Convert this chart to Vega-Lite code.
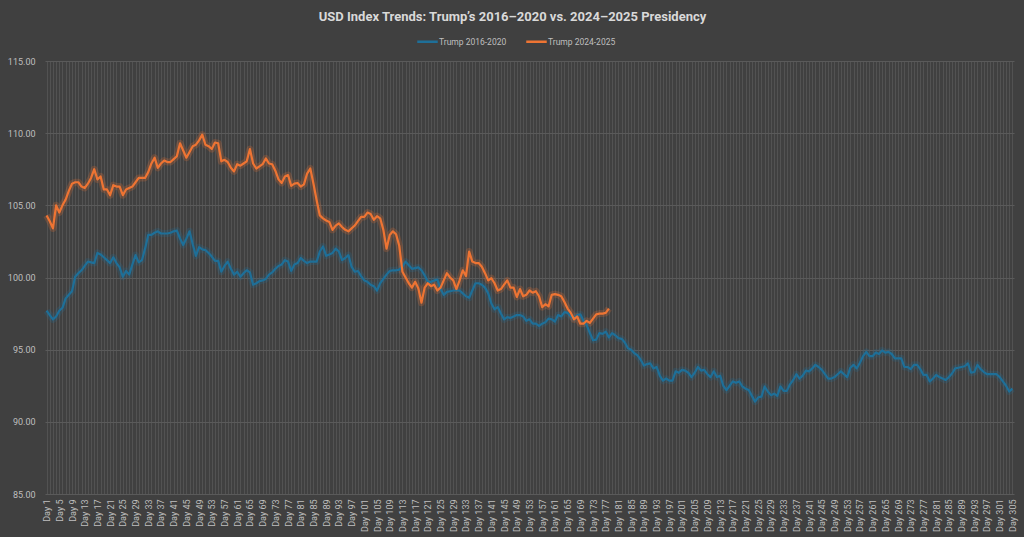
{
  "$schema": "https://vega.github.io/schema/vega-lite/v6.json",
  "width": 969,
  "height": 433,
  "autosize": {"type": "none"},
  "padding": {"left": 45, "top": 61, "right": 10, "bottom": 43},
  "background": "#404040",
  "config": {"font": "Roboto", "view": {"stroke": null}},
  "title": {
    "text": "USD Index Trends: Trump’s 2016–2020 vs. 2024–2025 Presidency",
    "fontSize": 13,
    "fontWeight": "bold",
    "color": "#d9d9d9",
    "anchor": "middle",
    "offset": 6,
    "dx": -17
  },
  "data": {
    "values": [
      {"day": 1, "a": 97.7, "b": 104.3},
      {"day": 2, "a": 97.4, "b": 103.9},
      {"day": 3, "a": 97.1, "b": 103.4},
      {"day": 4, "a": 97.3, "b": 105.0},
      {"day": 5, "a": 97.7, "b": 104.5},
      {"day": 6, "a": 97.9, "b": 105.0},
      {"day": 7, "a": 98.55, "b": 105.4},
      {"day": 8, "a": 98.8, "b": 106.0},
      {"day": 9, "a": 99.05, "b": 106.5},
      {"day": 10, "a": 100.05, "b": 106.6},
      {"day": 11, "a": 100.3, "b": 106.6},
      {"day": 12, "a": 100.5, "b": 106.3},
      {"day": 13, "a": 100.8, "b": 106.2},
      {"day": 14, "a": 101.1, "b": 106.5},
      {"day": 15, "a": 101.05, "b": 106.9},
      {"day": 16, "a": 101.0, "b": 107.5},
      {"day": 17, "a": 101.7, "b": 106.8},
      {"day": 18, "a": 101.6, "b": 107.0},
      {"day": 19, "a": 101.4, "b": 106.1},
      {"day": 20, "a": 101.2, "b": 106.1},
      {"day": 21, "a": 101.0, "b": 105.7},
      {"day": 22, "a": 101.4, "b": 106.4},
      {"day": 23, "a": 101.0, "b": 106.3},
      {"day": 24, "a": 100.7, "b": 106.3},
      {"day": 25, "a": 100.05, "b": 105.7},
      {"day": 26, "a": 100.45, "b": 106.1},
      {"day": 27, "a": 100.2, "b": 106.2},
      {"day": 28, "a": 100.9, "b": 106.3},
      {"day": 29, "a": 101.55, "b": 106.6},
      {"day": 30, "a": 101.05, "b": 106.9},
      {"day": 31, "a": 101.2, "b": 106.9},
      {"day": 32, "a": 102.0, "b": 106.9},
      {"day": 33, "a": 102.95, "b": 107.3},
      {"day": 34, "a": 102.95, "b": 107.9},
      {"day": 35, "a": 103.1, "b": 108.3},
      {"day": 36, "a": 103.2, "b": 107.6},
      {"day": 37, "a": 103.05, "b": 107.9},
      {"day": 38, "a": 103.05, "b": 108.1},
      {"day": 39, "a": 103.05, "b": 108.0},
      {"day": 40, "a": 103.1, "b": 108.0},
      {"day": 41, "a": 103.2, "b": 108.2},
      {"day": 42, "a": 103.25, "b": 108.4},
      {"day": 43, "a": 102.7, "b": 109.3},
      {"day": 44, "a": 102.25, "b": 108.8},
      {"day": 45, "a": 102.7, "b": 108.3},
      {"day": 46, "a": 103.2, "b": 108.7},
      {"day": 47, "a": 102.3, "b": 109.1},
      {"day": 48, "a": 101.5, "b": 109.2},
      {"day": 49, "a": 102.1, "b": 109.5},
      {"day": 50, "a": 101.95, "b": 109.9},
      {"day": 51, "a": 101.9, "b": 109.2},
      {"day": 52, "a": 101.7, "b": 109.1},
      {"day": 53, "a": 101.45, "b": 108.9},
      {"day": 54, "a": 101.15, "b": 109.35},
      {"day": 55, "a": 101.15, "b": 109.3},
      {"day": 56, "a": 100.4, "b": 108.05},
      {"day": 57, "a": 100.8, "b": 108.15},
      {"day": 58, "a": 101.1, "b": 108.0},
      {"day": 59, "a": 100.6, "b": 107.6},
      {"day": 60, "a": 100.2, "b": 107.35},
      {"day": 61, "a": 100.4, "b": 107.85},
      {"day": 62, "a": 100.05, "b": 107.75},
      {"day": 63, "a": 100.3, "b": 107.9},
      {"day": 64, "a": 100.5, "b": 108.05},
      {"day": 65, "a": 100.35, "b": 108.9},
      {"day": 66, "a": 99.5, "b": 107.9},
      {"day": 67, "a": 99.6, "b": 107.55},
      {"day": 68, "a": 99.75, "b": 107.7},
      {"day": 69, "a": 99.8, "b": 107.85},
      {"day": 70, "a": 99.9, "b": 108.25},
      {"day": 71, "a": 100.2, "b": 107.9},
      {"day": 72, "a": 100.35, "b": 107.85},
      {"day": 73, "a": 100.6, "b": 107.4},
      {"day": 74, "a": 100.8, "b": 106.8},
      {"day": 75, "a": 100.9, "b": 106.55},
      {"day": 76, "a": 101.2, "b": 107.0},
      {"day": 77, "a": 101.1, "b": 107.1},
      {"day": 78, "a": 100.45, "b": 106.35},
      {"day": 79, "a": 100.9, "b": 106.5},
      {"day": 80, "a": 101.0, "b": 106.55},
      {"day": 81, "a": 101.35, "b": 106.3},
      {"day": 82, "a": 101.15, "b": 106.45},
      {"day": 83, "a": 101.0, "b": 107.2},
      {"day": 84, "a": 101.1, "b": 107.55},
      {"day": 85, "a": 101.1, "b": 106.5},
      {"day": 86, "a": 101.1, "b": 105.35},
      {"day": 87, "a": 101.8, "b": 104.3},
      {"day": 88, "a": 102.15, "b": 104.1},
      {"day": 89, "a": 101.5, "b": 103.95},
      {"day": 90, "a": 101.6, "b": 103.85},
      {"day": 91, "a": 101.7, "b": 103.3},
      {"day": 92, "a": 102.0, "b": 103.6},
      {"day": 93, "a": 101.8, "b": 103.75},
      {"day": 94, "a": 101.2, "b": 103.5},
      {"day": 95, "a": 101.35, "b": 103.3},
      {"day": 96, "a": 101.55, "b": 103.2},
      {"day": 97, "a": 100.75, "b": 103.4},
      {"day": 98, "a": 100.4, "b": 103.6},
      {"day": 99, "a": 100.45, "b": 103.9},
      {"day": 100, "a": 100.1, "b": 104.2},
      {"day": 101, "a": 99.8, "b": 104.2},
      {"day": 102, "a": 99.7, "b": 104.5},
      {"day": 103, "a": 99.5, "b": 104.4},
      {"day": 104, "a": 99.4, "b": 104.0},
      {"day": 105, "a": 99.1, "b": 104.25},
      {"day": 106, "a": 99.6, "b": 104.1},
      {"day": 107, "a": 99.9, "b": 103.3},
      {"day": 108, "a": 100.2, "b": 102.0},
      {"day": 109, "a": 100.45, "b": 102.95},
      {"day": 110, "a": 100.5, "b": 103.2},
      {"day": 111, "a": 100.5, "b": 103.0},
      {"day": 112, "a": 100.55, "b": 102.2},
      {"day": 113, "a": 100.75, "b": 100.4},
      {"day": 114, "a": 101.1, "b": 100.0},
      {"day": 115, "a": 100.85, "b": 99.6},
      {"day": 116, "a": 100.6, "b": 99.3},
      {"day": 117, "a": 100.65, "b": 99.7},
      {"day": 118, "a": 100.7, "b": 99.25},
      {"day": 119, "a": 100.5, "b": 98.25},
      {"day": 120, "a": 100.15, "b": 99.3},
      {"day": 121, "a": 99.7, "b": 99.6},
      {"day": 122, "a": 99.7, "b": 99.4},
      {"day": 123, "a": 99.8, "b": 99.5},
      {"day": 124, "a": 99.85, "b": 99.1},
      {"day": 125, "a": 99.2, "b": 99.3},
      {"day": 126, "a": 98.8, "b": 99.8},
      {"day": 127, "a": 99.0, "b": 100.3},
      {"day": 128, "a": 99.05, "b": 100.0},
      {"day": 129, "a": 99.1, "b": 99.8},
      {"day": 130, "a": 99.1, "b": 99.2},
      {"day": 131, "a": 99.1, "b": 99.8},
      {"day": 132, "a": 98.9, "b": 100.5},
      {"day": 133, "a": 98.7, "b": 100.1},
      {"day": 134, "a": 98.6, "b": 101.8},
      {"day": 135, "a": 99.1, "b": 101.1},
      {"day": 136, "a": 99.6, "b": 101.0},
      {"day": 137, "a": 99.6, "b": 101.0},
      {"day": 138, "a": 99.5, "b": 100.75},
      {"day": 139, "a": 99.3, "b": 100.3},
      {"day": 140, "a": 98.9, "b": 99.8},
      {"day": 141, "a": 98.2, "b": 99.95},
      {"day": 142, "a": 97.8, "b": 99.6},
      {"day": 143, "a": 97.95, "b": 99.1},
      {"day": 144, "a": 97.5, "b": 99.2},
      {"day": 145, "a": 97.1, "b": 99.5},
      {"day": 146, "a": 97.25, "b": 99.8},
      {"day": 147, "a": 97.2, "b": 99.3},
      {"day": 148, "a": 97.3, "b": 99.3},
      {"day": 149, "a": 97.4, "b": 98.65},
      {"day": 150, "a": 97.4, "b": 99.2},
      {"day": 151, "a": 97.3, "b": 98.7},
      {"day": 152, "a": 97.0, "b": 98.8},
      {"day": 153, "a": 97.1, "b": 99.1},
      {"day": 154, "a": 96.8, "b": 98.95},
      {"day": 155, "a": 96.8, "b": 99.05},
      {"day": 156, "a": 96.65, "b": 98.7},
      {"day": 157, "a": 96.8, "b": 97.95},
      {"day": 158, "a": 96.9, "b": 98.15},
      {"day": 159, "a": 97.15, "b": 98.0},
      {"day": 160, "a": 97.1, "b": 98.8},
      {"day": 161, "a": 96.95, "b": 98.85},
      {"day": 162, "a": 97.4, "b": 98.8},
      {"day": 163, "a": 97.3, "b": 98.7},
      {"day": 164, "a": 97.6, "b": 98.3},
      {"day": 165, "a": 97.55, "b": 97.85},
      {"day": 166, "a": 97.3, "b": 97.55},
      {"day": 167, "a": 97.15, "b": 97.1},
      {"day": 168, "a": 97.4, "b": 97.3},
      {"day": 169, "a": 97.45, "b": 96.8},
      {"day": 170, "a": 97.0, "b": 96.8},
      {"day": 171, "a": 96.7, "b": 97.0},
      {"day": 172, "a": 96.15, "b": 96.85},
      {"day": 173, "a": 95.65, "b": 97.15},
      {"day": 174, "a": 95.7, "b": 97.45},
      {"day": 175, "a": 96.15, "b": 97.5},
      {"day": 176, "a": 96.1, "b": 97.5},
      {"day": 177, "a": 96.25, "b": 97.55},
      {"day": 178, "a": 95.85, "b": 97.85},
      {"day": 179, "a": 96.15},
      {"day": 180, "a": 96.0},
      {"day": 181, "a": 95.8},
      {"day": 182, "a": 95.75},
      {"day": 183, "a": 95.5},
      {"day": 184, "a": 95.1},
      {"day": 185, "a": 95.0},
      {"day": 186, "a": 94.75},
      {"day": 187, "a": 94.6},
      {"day": 188, "a": 94.3},
      {"day": 189, "a": 93.9},
      {"day": 190, "a": 94.0},
      {"day": 191, "a": 94.05},
      {"day": 192, "a": 93.7},
      {"day": 193, "a": 93.8},
      {"day": 194, "a": 93.2},
      {"day": 195, "a": 92.85},
      {"day": 196, "a": 93.0},
      {"day": 197, "a": 92.85},
      {"day": 198, "a": 92.85},
      {"day": 199, "a": 93.5},
      {"day": 200, "a": 93.4},
      {"day": 201, "a": 93.6},
      {"day": 202, "a": 93.55},
      {"day": 203, "a": 93.4},
      {"day": 204, "a": 93.1},
      {"day": 205, "a": 93.4},
      {"day": 206, "a": 93.8},
      {"day": 207, "a": 93.55},
      {"day": 208, "a": 93.6},
      {"day": 209, "a": 93.3},
      {"day": 210, "a": 93.1},
      {"day": 211, "a": 93.5},
      {"day": 212, "a": 93.1},
      {"day": 213, "a": 93.2},
      {"day": 214, "a": 92.5},
      {"day": 215, "a": 92.2},
      {"day": 216, "a": 92.5},
      {"day": 217, "a": 92.8},
      {"day": 218, "a": 92.7},
      {"day": 219, "a": 92.8},
      {"day": 220, "a": 92.45},
      {"day": 221, "a": 92.3},
      {"day": 222, "a": 92.2},
      {"day": 223, "a": 91.8},
      {"day": 224, "a": 91.4},
      {"day": 225, "a": 91.7},
      {"day": 226, "a": 91.75},
      {"day": 227, "a": 92.45},
      {"day": 228, "a": 92.1},
      {"day": 229, "a": 91.85},
      {"day": 230, "a": 91.95},
      {"day": 231, "a": 91.8},
      {"day": 232, "a": 92.45},
      {"day": 233, "a": 92.15},
      {"day": 234, "a": 92.15},
      {"day": 235, "a": 92.6},
      {"day": 236, "a": 92.9},
      {"day": 237, "a": 93.3},
      {"day": 238, "a": 93.0},
      {"day": 239, "a": 93.2},
      {"day": 240, "a": 93.55},
      {"day": 241, "a": 93.5},
      {"day": 242, "a": 93.7},
      {"day": 243, "a": 93.95},
      {"day": 244, "a": 93.8},
      {"day": 245, "a": 93.6},
      {"day": 246, "a": 93.3},
      {"day": 247, "a": 93.0},
      {"day": 248, "a": 93.0},
      {"day": 249, "a": 93.1},
      {"day": 250, "a": 93.3},
      {"day": 251, "a": 93.5},
      {"day": 252, "a": 93.3},
      {"day": 253, "a": 93.1},
      {"day": 254, "a": 93.75},
      {"day": 255, "a": 93.95},
      {"day": 256, "a": 93.7},
      {"day": 257, "a": 94.1},
      {"day": 258, "a": 94.55},
      {"day": 259, "a": 94.85},
      {"day": 260, "a": 94.55},
      {"day": 261, "a": 94.55},
      {"day": 262, "a": 94.8},
      {"day": 263, "a": 94.7},
      {"day": 264, "a": 94.95},
      {"day": 265, "a": 94.8},
      {"day": 266, "a": 94.85},
      {"day": 267, "a": 94.7},
      {"day": 268, "a": 94.4},
      {"day": 269, "a": 94.4},
      {"day": 270, "a": 94.4},
      {"day": 271, "a": 93.8},
      {"day": 272, "a": 93.8},
      {"day": 273, "a": 93.65},
      {"day": 274, "a": 93.95},
      {"day": 275, "a": 93.95},
      {"day": 276, "a": 93.65},
      {"day": 277, "a": 93.25},
      {"day": 278, "a": 93.25},
      {"day": 279, "a": 92.8},
      {"day": 280, "a": 93.0},
      {"day": 281, "a": 93.25},
      {"day": 282, "a": 93.1},
      {"day": 283, "a": 93.0},
      {"day": 284, "a": 92.9},
      {"day": 285, "a": 93.1},
      {"day": 286, "a": 93.35},
      {"day": 287, "a": 93.7},
      {"day": 288, "a": 93.75},
      {"day": 289, "a": 93.8},
      {"day": 290, "a": 93.85},
      {"day": 291, "a": 94.05},
      {"day": 292, "a": 93.4},
      {"day": 293, "a": 93.45},
      {"day": 294, "a": 93.95},
      {"day": 295, "a": 93.65},
      {"day": 296, "a": 93.45},
      {"day": 297, "a": 93.3},
      {"day": 298, "a": 93.3},
      {"day": 299, "a": 93.3},
      {"day": 300, "a": 93.3},
      {"day": 301, "a": 93.1},
      {"day": 302, "a": 92.8},
      {"day": 303, "a": 92.5},
      {"day": 304, "a": 92.1},
      {"day": 305, "a": 92.3}
    ]
  },
  "transform": [
    {"fold": ["a", "b"], "as": ["series", "value"]},
    {"filter": "isValid(datum.value)"}
  ],
  "encoding": {
    "x": {
      "field": "day",
      "type": "quantitative",
      "scale": {"domain": [0.5, 305.5], "nice": false, "zero": false},
      "axis": {
        "title": null,
        "tickCount": 305,
        "labelExpr": "(datum.value - 1) % 4 == 0 ? 'Day ' + datum.value : ''",
        "labelAngle": -90,
        "labelFontSize": 9,
        "labelColor": "#bfbfbf",
        "labelOverlap": false,
        "labelBound": false,
        "labelFlush": false,
        "labelPadding": 5,
        "ticks": false,
        "domain": false,
        "gridColor": "#525252",
        "gridWidth": 1
      }
    },
    "y": {
      "field": "value",
      "type": "quantitative",
      "scale": {"domain": [85, 115], "nice": false, "zero": false},
      "axis": {
        "title": null,
        "values": [85, 90, 95, 100, 105, 110, 115],
        "format": ".2f",
        "labelFontSize": 9,
        "labelColor": "#bfbfbf",
        "labelPadding": 10,
        "ticks": false,
        "domain": false,
        "gridColor": "#5a5a5a"
      }
    },
    "color": {
      "field": "series",
      "type": "nominal",
      "scale": {"domain": ["a", "b"], "range": ["#1e6f98", "#ee7433"]},
      "legend": {
        "orient": "none",
        "legendX": 371,
        "legendY": -31,
        "direction": "horizontal",
        "title": null,
        "symbolType": "stroke",
        "symbolSize": 420,
        "symbolStrokeWidth": 2.5,
        "symbolOpacity": 1,
        "labelColor": "#bfbfbf",
        "labelFontSize": 8.5,
        "labelOffset": 0,
        "columnPadding": 14,
        "labelExpr": "datum.label == 'a' ? 'Trump 2016-2020' : 'Trump 2024-2025'"
      }
    }
  },
  "layer": [
    {
      "mark": {"type": "line", "strokeWidth": 7, "opacity": 0.22, "strokeJoin": "round"},
      "encoding": {}
    },
    {
      "mark": {"type": "line", "strokeWidth": 2.2, "strokeJoin": "round"},
      "encoding": {}
    }
  ]
}
